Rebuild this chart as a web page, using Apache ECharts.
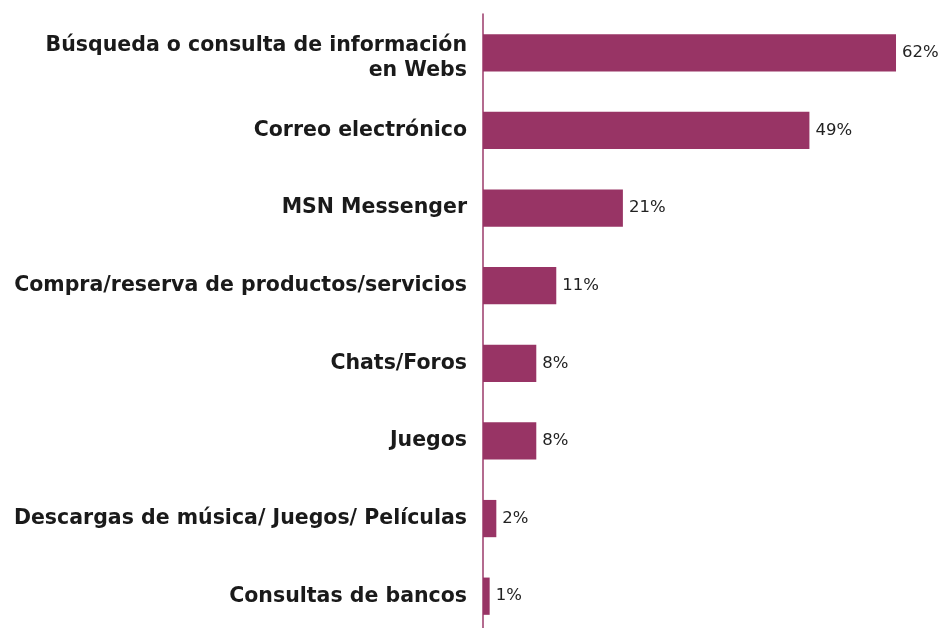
<!DOCTYPE html>
<html>
<head>
<meta charset="utf-8">
<script src="https://cdn.jsdelivr.net/npm/echarts@6/dist/echarts.min.js"></script>
<style>
html, body { margin: 0; padding: 0; background: #fff; }
#chart { width: 943px; height: 628px; }
</style>
</head>
<body>
<div id="chart"></div>
<script>
// categorias de arriba hacia abajo
var categories = [
    'Búsqueda o consulta de información\nen Webs',
    'Correo electrónico',
    'MSN Messenger',
    'Compra/reserva de productos/servicios',
    'Chats/Foros',
    'Juegos',
    'Descargas de música/ Juegos/ Películas',
    'Consultas de bancos'
];
var values = [62, 49, 21, 11, 8, 8, 2, 1];

var myChart = echarts.init(document.getElementById('chart'));

var option = {
    animation: false,
    grid: {
        left: 483,
        top: 14,
        width: 433,
        height: 621,
        containLabel: false,
        outerBoundsMode: 'none'
    },
    xAxis: {
        type: 'value',
        min: 0,
        max: 65,
        show: false
    },
    yAxis: {
        type: 'category',
        inverse: true,
        data: categories,
        axisLine: { lineStyle: { color: '#9b3a6a', width: 1.5 } },
        axisTick: { show: false },
        axisLabel: {
            margin: 16,
            color: '#1a1a1a',
            fontWeight: 'bold',
            fontSize: 20.5,
            lineHeight: 25,
            fontFamily: 'DejaVu Sans',
            // la etiqueta de dos lineas va un poco mas abajo
            formatter: function (v) {
                if (v.indexOf('\n') < 0) return v;
                return v.split('\n').map(function (s) { return '{two|' + s + '}'; }).join('\n');
            },
            rich: {
                two: {
                    fontSize: 20.5,
                    fontWeight: 'bold',
                    fontFamily: 'DejaVu Sans',
                    color: '#1a1a1a',
                    lineHeight: 25,
                    padding: [10, 0, 0, 0]
                }
            }
        }
    },
    series: [{
        type: 'bar',
        data: values,
        barCategoryGap: '52%',
        itemStyle: { color: '#983465' },
        label: {
            show: true,
            position: 'right',
            distance: 6,
            formatter: '{c}%',
            color: '#222',
            fontSize: 16.5,
            fontFamily: 'DejaVu Sans'
        }
    }]
};

myChart.setOption(option);
</script>
</body>
</html>
